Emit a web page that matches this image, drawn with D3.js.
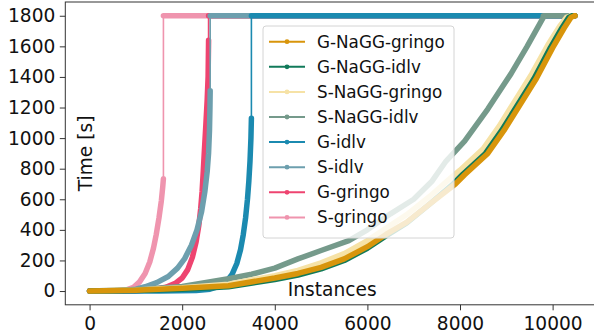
<!DOCTYPE html>
<html>
<head>
<meta charset="utf-8">
<script src="https://cdn.jsdelivr.net/npm/d3@7"></script>
<style>
  html, body { margin: 0; padding: 0; background: #fff; }
  svg { display: block; font-family: "DejaVu Sans", sans-serif; }
</style>
</head>
<body>
<div id="chart"></div>
<script>
/**
 * Chart data.
 */
const instanceCount = 10480;
const timeLimit = 1800;

const seriesNames = ["G-NaGG-gringo", "G-NaGG-idlv", "S-NaGG-gringo", "S-NaGG-idlv",
  "G-idlv", "S-idlv", "G-gringo", "S-gringo"];
const seriesColors = ["#d8950b", "#117a5a", "#f6e2a6", "#759a8b",
  "#1b8ab0", "#6d9fae", "#ee4470", "#ef94ae"];

// [instances solved, time] for the solved part of each curve
const gNaggGringo = [[0, 0], [1000, 5], [2000, 18], [3000, 35], [4000, 85], [4500, 115], [5000, 155],
  [5500, 210], [6000, 290], [6400, 370], [6850, 450], [7350, 570], [7900, 700], [8100, 760],
  [8600, 900], [8950, 1050], [9300, 1220], [9650, 1390], [10000, 1590], [10250, 1720],
  [10400, 1790], [10480, 1800]];
const gNaggIdlv = [[0, 0], [1000, 3], [2000, 12], [3000, 28], [4000, 75], [4500, 105], [5000, 145],
  [5500, 200], [6000, 280], [6400, 360], [6850, 445], [7350, 570], [7850, 700], [8050, 760],
  [8550, 900], [8900, 1050], [9250, 1220], [9600, 1390], [9950, 1590], [10200, 1720],
  [10350, 1790], [10430, 1800]];
const sNaggGringo = [[0, 0], [1000, 6], [2000, 22], [3000, 45], [4000, 100], [4500, 135], [5000, 185],
  [5500, 245], [6000, 330], [6400, 410], [6850, 500], [7350, 620], [7800, 740], [8000, 790],
  [8500, 930], [8850, 1080], [9200, 1250], [9550, 1420], [9900, 1610], [10150, 1730],
  [10300, 1790], [10400, 1800]];
const sNaggIdlv = [[0, 0], [1000, 8], [2000, 30], [3000, 80], [3500, 110], [4000, 150], [4500, 210],
  [5000, 265], [5600, 330], [6000, 400], [6500, 505], [7000, 600], [7400, 720], [7700, 850],
  [8100, 980], [8600, 1190], [9100, 1420], [9450, 1600], [9800, 1790]];
const gIdlv = [[0, 0], [1500, 1], [2300, 4], [2600, 12], [2800, 30], [2950, 60], [3080, 110],
  [3180, 180], [3260, 270], [3320, 370], [3370, 480], [3410, 600], [3440, 720], [3465, 850],
  [3485, 1000], [3495, 1130]];
const sIdlv = [[0, 0], [700, 3], [1000, 12], [1200, 28], [1450, 55], [1700, 95], [1900, 150],
  [2050, 210], [2200, 300], [2320, 400], [2420, 520], [2490, 650], [2540, 780], [2570, 900],
  [2590, 1050], [2600, 1200], [2605, 1310]];
const gGringo = [[0, 0], [1000, 2], [1400, 10], [1650, 25], [1850, 50], [2000, 85], [2120, 140],
  [2220, 220], [2300, 320], [2360, 430], [2400, 540], [2430, 650], [2455, 780], [2480, 920],
  [2510, 1080], [2540, 1250], [2560, 1400], [2570, 1640]];
const sGringo = [[0, 0], [600, 2], [800, 8], [950, 25], [1080, 60], [1200, 115], [1300, 190],
  [1380, 280], [1440, 370], [1500, 480], [1550, 590], [1580, 680], [1595, 735]];

const seriesValues = [gNaggGringo, gNaggIdlv, sNaggGringo, sNaggIdlv, gIdlv, sIdlv, gGringo, sGringo];

const xTicks = [0, 2000, 4000, 6000, 8000, 10000];
const yTicks = [0, 200, 400, 600, 800, 1000, 1200, 1400, 1600, 1800];

/**
 * Layout.
 */
const width = 594, height = 334;
const plot = { left: 65.3, right: 599.1, top: 2, bottom: 304.8 };
const tickFont = 18.6;
const legendFont = 16.8;
const bandWidth = 5.5;   // dense markers read as a thick band
const lineWidth = 1.6;

const x = d3.scaleLinear()
  .domain([-0.05 * instanceCount, 1.05 * instanceCount])
  .range([plot.left, plot.right]);
const y = d3.scaleLinear()
  .domain([-0.05 * timeLimit, 1.05 * timeLimit])
  .range([plot.bottom, plot.top]);

const line = d3.line().x(d => x(d[0])).y(d => y(d[1]));

const svg = d3.select("#chart")
  .append("svg")
    .attr("width", width)
    .attr("height", height);

/**
 * Curves, drawn last legend entry first so the first one ends on top.
 */
const curves = svg.append("g").attr("class", "curves");

d3.range(seriesValues.length).reverse().forEach(i => {
  const solved = seriesValues[i];
  const last = solved[solved.length - 1];
  const timedOut = [[last[0], timeLimit], [instanceCount, timeLimit]];
  const color = seriesColors[i];

  curves.append("path")
    .attr("d", line(solved.concat(timedOut)))
    .attr("fill", "none")
    .attr("stroke", color)
    .attr("stroke-width", lineWidth);

  [solved, timedOut].forEach(part => {
    curves.append("path")
      .attr("d", line(part))
      .attr("fill", "none")
      .attr("stroke", color)
      .attr("stroke-width", bandWidth)
      .attr("stroke-linejoin", "round")
      .attr("stroke-linecap", "round");
  });
});

/**
 * Axes.
 */
const yAxis = svg.append("g")
  .attr("transform", `translate(${plot.left},0)`)
  .call(d3.axisLeft(y).tickValues(yTicks).tickFormat(d3.format("d"))
    .tickSize(5.5).tickPadding(4.5));

const xAxis = svg.append("g")
  .attr("transform", `translate(0,${plot.bottom})`)
  .call(d3.axisBottom(x).tickValues(xTicks).tickFormat(d3.format("d"))
    .tickSize(5.5).tickPadding(6.5));

[xAxis, yAxis].forEach(axis => {
  axis.select(".domain").remove();
  axis.selectAll("line").attr("stroke", "#333").attr("stroke-width", 1);
  axis.selectAll("text")
    .attr("fill", "#111")
    .style("font-size", `${tickFont}px`)
    .style("font-family", "'DejaVu Sans', sans-serif");
});

svg.append("rect")
  .attr("x", plot.left)
  .attr("y", plot.top)
  .attr("width", plot.right - plot.left)
  .attr("height", plot.bottom - plot.top)
  .attr("fill", "none")
  .attr("stroke", "#333")
  .attr("stroke-width", 1);

svg.append("text")
  .attr("transform", `translate(92,${(plot.top + plot.bottom) / 2}) rotate(-90)`)
  .attr("text-anchor", "middle")
  .attr("fill", "#111")
  .style("font-size", `${tickFont}px`)
  .text("Time [s]");

svg.append("text")
  .attr("x", (plot.left + plot.right) / 2)
  .attr("y", 296)
  .attr("text-anchor", "middle")
  .attr("fill", "#111")
  .style("font-size", `${tickFont}px`)
  .text("Instances");

/**
 * Legend.
 */
const legend = svg.append("g").attr("transform", "translate(263,26)");

legend.append("rect")
  .attr("width", 191)
  .attr("height", 212)
  .attr("rx", 3)
  .attr("fill", "#fff")
  .attr("fill-opacity", 0.8)
  .attr("stroke", "#d4d4d4");

const rows = legend.selectAll(".row")
  .data(seriesNames)
  .enter().append("g")
    .attr("class", "row")
    .attr("transform", (d, i) => `translate(0,${15.7 + i * 25.1})`);

rows.append("line")
  .attr("x1", 6).attr("x2", 42)
  .attr("stroke", (d, i) => seriesColors[i])
  .attr("stroke-width", 2);

rows.append("circle")
  .attr("cx", 24)
  .attr("r", 2.4)
  .attr("fill", (d, i) => seriesColors[i]);

rows.append("text")
  .attr("x", 54)
  .attr("dy", "0.36em")
  .attr("fill", "#111")
  .style("font-size", `${legendFont}px`)
  .text(d => d);
</script>
</body>
</html>
